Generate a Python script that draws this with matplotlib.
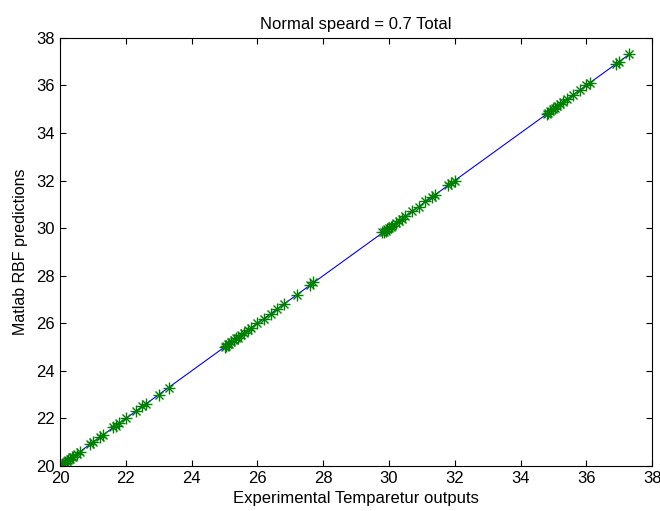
import matplotlib
matplotlib.use("Agg")
import matplotlib.pyplot as plt
import numpy as np

plt.rcParams['font.family'] = ['Liberation Sans', 'DejaVu Sans']

# experimental temperatures (targets) and RBF predictions
targets = [20.0, 20.05, 20.1, 20.15, 20.2, 20.25, 20.3, 20.35, 20.4, 20.5, 20.6,
           20.9, 21.0, 21.2, 21.3, 21.6, 21.7, 21.8, 22.0, 22.3, 22.5, 22.6, 23.0, 23.3,
           25.0, 25.05, 25.1, 25.15, 25.2, 25.3, 25.35, 25.4, 25.5, 25.6,
           25.7, 25.8, 26.0, 26.2, 26.4, 26.6, 26.8, 27.2, 27.6, 27.7,
           29.8, 29.85, 29.9, 29.95, 30.0, 30.05, 30.1, 30.2, 30.3,
           30.4, 30.5, 30.7, 30.9, 31.1, 31.3, 31.4, 31.8, 31.9, 32.0,
           34.8, 34.85, 34.9, 35.0, 35.05, 35.1, 35.2, 35.3,
           35.4, 35.6, 35.8, 36.0, 36.1, 36.9, 37.0, 37.3]
predictions = [20.0, 20.08, 20.1, 20.12, 20.22, 20.25, 20.3, 20.38, 20.4, 20.5, 20.6,
               20.92, 21.0, 21.2, 21.3, 21.62, 21.7, 21.8, 22.0, 22.3, 22.52, 22.6, 23.0, 23.3,
               25.0, 25.05, 25.12, 25.15, 25.2, 25.3, 25.38, 25.4, 25.5, 25.6,
               25.72, 25.8, 26.0, 26.2, 26.4, 26.62, 26.8, 27.2, 27.6, 27.72,
               29.82, 29.85, 29.9, 29.95, 30.02, 30.05, 30.1, 30.2, 30.32,
               30.4, 30.5, 30.7, 30.9, 31.12, 31.3, 31.4, 31.8, 31.9, 32.0,
               34.8, 34.85, 34.92, 35.0, 35.05, 35.12, 35.2, 35.3,
               35.42, 35.6, 35.8, 36.0, 36.1, 36.92, 37.0, 37.3]
line_x = [20.0, 37.3]
line_y = [20.0, 37.3]

fig = plt.figure(figsize=(6.6, 5.11), dpi=100)
ax = fig.add_axes([0.091, 0.088, 0.897, 0.838])

ax.plot(line_x, line_y, color='blue', linewidth=0.8)
# matlab style asterisk: plus + cross
ax.plot(targets, predictions, linestyle='none', marker='+', color='green',
        markersize=8, markeredgewidth=1.0)
ax.plot(targets, predictions, linestyle='none', marker='x', color='green',
        markersize=5.5, markeredgewidth=1.0)

ax.set_xlim(20, 38)
ax.set_ylim(20, 38)
ax.set_xticks(np.arange(20, 39, 2))
ax.set_yticks(np.arange(20, 39, 2))
ax.tick_params(direction='in', top=True, right=True, labelsize=12, length=4)

ax.set_title('Normal speard = 0.7 Total', fontsize=12)
ax.set_xlabel('Experimental Temparetur outputs', fontsize=12, labelpad=4)
ax.set_ylabel('Matlab RBF predictions', fontsize=11.5, labelpad=6)

fig.savefig('out.png', dpi=100)
